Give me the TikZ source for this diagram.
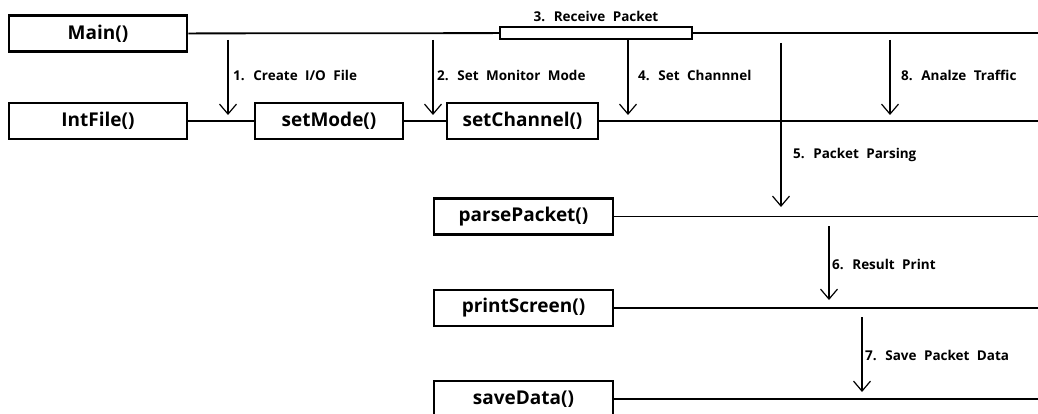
\documentclass[tikz,border=0pt]{standalone}
\usepackage{fontspec}
\setmainfont{Open Sans}
\usetikzlibrary{arrows.meta}
\newcommand{\callfont}{\fontsize{19}{22}\selectfont\bfseries}
\newcommand{\stepfont}{\fontsize{13.5}{15}\selectfont\bfseries\spaceskip=0.55em}

\begin{document}
\begin{tikzpicture}[x=1pt,y=-1pt,
                      funcbox/.style={draw,line width=2.6pt,minimum height=36pt,inner sep=0pt,font=\callfont},
                      callline/.style={line width=1.8pt},
                      callarrow/.style={line width=1.2pt,-{Straight Barb[length=10pt,width=17pt,line width=1.2pt]}},
                      steplabel/.style={anchor=west,inner sep=0pt,font=\stepfont}]
  \useasboundingbox (0,0) rectangle (1038,414);

  \node[funcbox,minimum width=178pt] (main) at (98,33.5) {Main()};
  \node[draw,line width=2pt,minimum width=192pt,minimum height=12pt,inner sep=0pt] (recv) at (596,33) {};
  \node[funcbox,minimum width=178pt] (intfile) at (98,121) {IntFile()};
  \node[funcbox,minimum width=148pt] (setmode) at (329,121) {setMode()};
  \node[funcbox,minimum width=151pt] (setchannel) at (522.5,121) {setChannel()};
  \node[funcbox,minimum width=179pt] (parse) at (523.5,216.5) {parsePacket()};
  \node[funcbox,minimum width=179pt] (print) at (523.5,308) {printScreen()};
  \node[funcbox,minimum width=179pt] (save) at (523.5,399) {saveData()};

  \draw[callline] (main) -- (recv) (recv) -- (1038,33);
  \draw[callline] (intfile) -- (setmode) (setmode) -- (setchannel) (setchannel) -- (1038,121);
  \foreach \Node in {parse,print,save}
    \draw[callline] (\Node.east) -- (\Node.east -| 1038,0);

  \node[inner sep=0pt,font=\stepfont] (recvlabel) at (596,16) {3. Receive Packet};

  \foreach \Name/\x/\ya/\yb/\xl/\yl/\Text in {create/228/40/115/233/75/{1. Create I/O File},
                                         monitor/433/40/115/437/75/{2. Set Monitor Mode},
                                         channel/628/39/115/638/75/{4. Set Channnel},
                                         parsing/781/43/207/793/155/{5. Packet Parsing},
                                         result/829/226/300/832/264/{6. Result Print},
                                         savedata/862/317/392/865/355/{7. Save Packet Data},
                                         traffic/890/40/115/901/75/{8. Analze Traffic}} {
    \coordinate (\Name-from) at (\x,\ya);
    \coordinate (\Name-to) at (\x,\yb);
    \draw[callarrow] (\Name-from) -- (\Name-to);
    \node[steplabel] (\Name-label) at (\xl,\yl) {\Text};
  }
\end{tikzpicture}
\end{document}
